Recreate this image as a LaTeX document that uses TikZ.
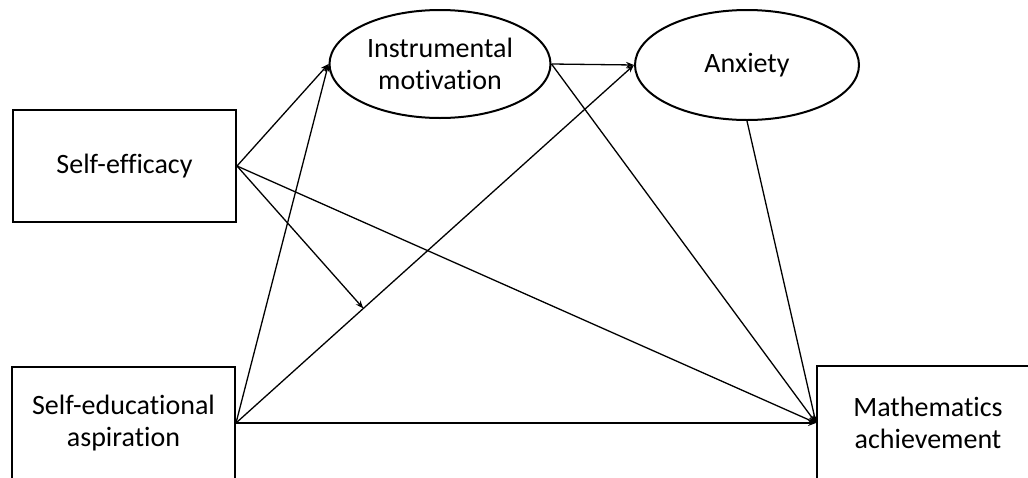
\documentclass[tikz,border=0pt]{standalone}
\usepackage{fontspec}
\setmainfont{Carlito}[Ligatures={NoCommon}]
\usetikzlibrary{arrows.meta,shapes.geometric,calc}
\begin{document}
\begin{tikzpicture}[x=1pt,y=-1pt,
  every node/.style={font=\fontsize{28}{32}\selectfont, align=center, inner sep=0pt},
  varbox/.style={draw, line width=2pt, rectangle},
  latent/.style={draw, line width=2pt, ellipse},
  path/.style={line width=1.3pt, -{Stealth[length=8pt,width=6pt]}}]
\useasboundingbox (0,0) rectangle (1028,477);
\clip (0,0) rectangle (1028,477);
\fill[white] (0,0) rectangle (1028,477);
\node[varbox, minimum width=223pt, minimum height=112pt] (se) at (124.5,166) {Self-efficacy};
\node[varbox, minimum width=223pt, minimum height=112pt] (sea) at (123.5,423) {Self-educational\\aspiration};
\node[varbox, minimum width=222pt, minimum height=114pt] (math) at (928,423) {Mathematics\\achievement};
\node[latent, minimum width=221pt, minimum height=108pt] (im) at (440,64) {Instrumental\\motivation};
\node[latent, minimum width=224pt, minimum height=110pt] (anx) at (747,65) {Anxiety};
\draw[path] (se.east) -- (im.west);
\draw[path] (se.east) -- (math.west);
\draw[path] (sea.east) -- (im.west);
\draw[path] (sea.east) -- (anx.west);
\draw[path] (sea.east) -- (math.west);
\draw[path] (im.east) -- (anx.west);
\draw[path] (im.east) -- (math.west);
\draw[path] (anx.south) -- (math.west);
\draw[path] (se.east) -- ($(sea.east)!0.32!(anx.west)$);
\end{tikzpicture}
\end{document}
